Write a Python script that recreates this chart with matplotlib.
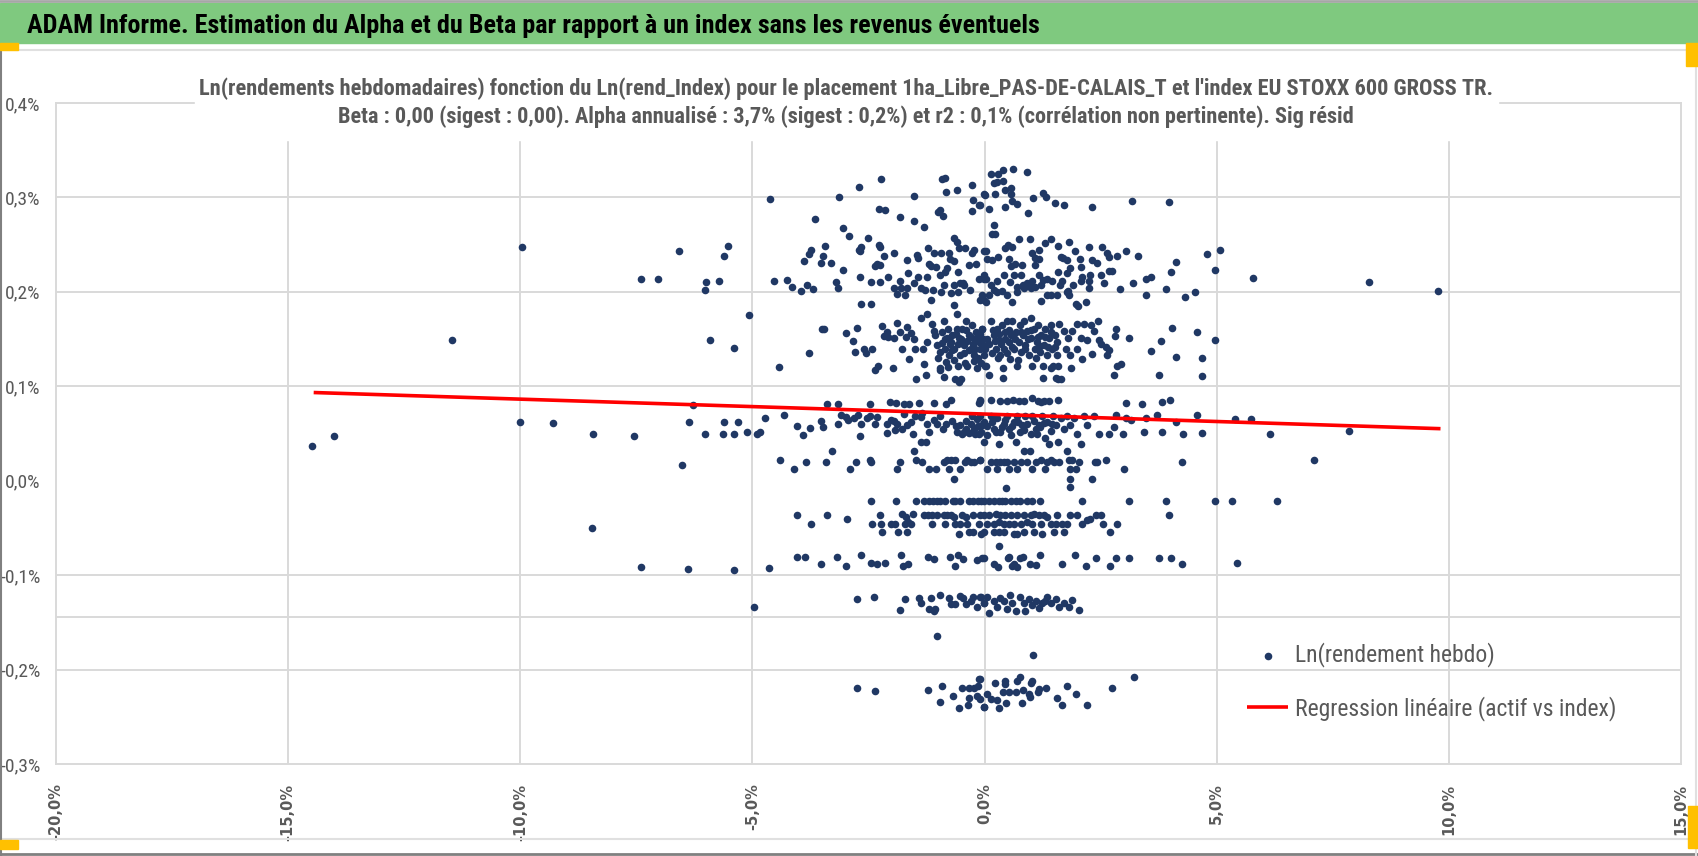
import matplotlib
matplotlib.use("Agg")
import matplotlib.pyplot as plt
import matplotlib.font_manager as fm
from matplotlib.patches import Rectangle
from matplotlib.lines import Line2D
from matplotlib.ticker import FuncFormatter

# valeurs : (rendement index %, rendement hebdo %)
pts_isoles = [(-9.96, 0.247), (-6.58, 0.243), (-5.52, 0.249), (-5.61, 0.238), (-7.39, 0.214), (-7.03, 0.214),
              (-5.99, 0.210), (-6.02, 0.202), (-5.71, 0.212), (-11.47, 0.149), (-5.91, 0.149), (-5.40, 0.141),
              (-14.49, 0.037), (-14.01, 0.047), (-10.00, 0.062), (-9.29, 0.061), (-8.43, 0.050), (-7.55, 0.047),
              (-6.36, 0.062), (-6.28, 0.080), (-6.02, 0.050), (-5.63, 0.050), (-5.61, 0.062), (-5.40, 0.050),
              (-5.31, 0.062), (-6.51, 0.017), (-8.46, -0.050), (-7.39, -0.091), (-6.39, -0.093), (-5.40, -0.095),
              (4.79, 0.240), (5.06, 0.244), (4.96, 0.223), (5.78, 0.215), (8.28, 0.210), (9.77, 0.201),
              (4.96, 0.149), (4.69, 0.130), (4.68, 0.111), (5.39, 0.065), (5.74, 0.065), (4.69, 0.051),
              (6.14, 0.050), (7.84, 0.053), (7.10, 0.022), (4.96, -0.022), (5.32, -0.022), (6.29, -0.022),
              (5.43, -0.087)]

pts_haut = [(-4.62, 0.298), (-3.13, 0.300), (-2.71, 0.311), (-2.23, 0.319), (-1.53, 0.302), (-0.91, 0.320),
            (-0.85, 0.321), (-0.84, 0.306), (-0.60, 0.308), (-0.28, 0.313), (-0.25, 0.297), (-0.28, 0.286),
            (-0.11, 0.292), (-0.01, 0.304), (-3.65, 0.277), (-2.28, 0.288), (-2.14, 0.287), (-1.83, 0.279),
            (-1.53, 0.275), (-1.30, 0.269), (-0.96, 0.287), (-1.00, 0.285), (-0.90, 0.280), (-3.04, 0.268),
            (-2.92, 0.259), (-2.52, 0.257), (0.14, 0.325), (0.29, 0.325), (0.39, 0.329), (0.62, 0.330),
            (0.91, 0.327), (0.20, 0.315), (0.26, 0.316), (0.40, 0.317), (0.45, 0.308), (0.57, 0.310),
            (0.57, 0.304), (0.00, 0.303), (0.22, 0.304), (-0.09, 0.292), (0.10, 0.288), (0.45, 0.290),
            (0.60, 0.296), (0.69, 0.293), (0.93, 0.283), (1.04, 0.299), (1.26, 0.305), (1.32, 0.300),
            (1.52, 0.294), (1.70, 0.292), (2.32, 0.290), (3.18, 0.296), (3.97, 0.295), (0.20, 0.271),
            (0.22, 0.261), (0.17, 0.261)]

pts_02 = [(-2.71, 0.244), (-2.67, 0.247), (-2.69, 0.243), (-2.27, 0.250), (-2.25, 0.247), (-2.16, 0.238),
          (-1.95, 0.241), (-1.67, 0.234), (-1.46, 0.239), (-1.44, 0.236), (-1.21, 0.246), (-1.08, 0.241),
          (-0.94, 0.241), (-0.77, 0.241), (-0.65, 0.257), (-0.60, 0.253), (-0.55, 0.246), (-0.42, 0.246),
          (-0.28, 0.241), (-0.23, 0.244), (-0.01, 0.243), (-3.74, 0.244), (-3.79, 0.240), (-3.90, 0.233),
          (-3.53, 0.231), (-3.44, 0.249), (-3.48, 0.238), (-3.30, 0.231), (-3.06, 0.223), (-2.36, 0.227),
          (-2.31, 0.229), (-2.25, 0.228), (-2.09, 0.216), (-2.69, 0.216), (-2.45, 0.210), (-2.26, 0.210),
          (-1.82, 0.212), (-1.64, 0.220), (-1.44, 0.216), (-1.25, 0.216), (-1.20, 0.230), (-1.16, 0.227),
          (-1.04, 0.226), (-0.96, 0.218), (-0.86, 0.221), (-0.80, 0.225), (-0.74, 0.235), (-0.66, 0.233),
          (-0.57, 0.221), (-0.52, 0.209), (-0.45, 0.207), (-0.33, 0.228), (-0.19, 0.230), (-0.13, 0.214),
          (-0.01, 0.214), (-4.53, 0.211), (-4.26, 0.213), (-4.15, 0.205), (-3.96, 0.201), (-3.82, 0.207),
          (-3.70, 0.203), (-3.20, 0.210), (-3.15, 0.204), (-1.95, 0.204), (-1.88, 0.198), (-1.81, 0.204),
          (-1.72, 0.197), (-1.67, 0.204), (-1.52, 0.209), (-1.37, 0.204), (-1.29, 0.202), (-1.16, 0.191),
          (-1.11, 0.202), (-0.93, 0.200), (-0.87, 0.207), (-0.73, 0.199), (-0.65, 0.207), (-0.57, 0.200),
          (-0.47, 0.209), (-0.32, 0.202), (-0.05, 0.197), (-0.01, 0.191),
          (0.03, 0.243), (0.06, 0.235), (0.17, 0.234), (0.29, 0.237), (0.43, 0.246), (0.50, 0.250),
          (0.60, 0.247), (0.52, 0.235), (0.56, 0.227), (0.66, 0.229), (0.75, 0.256), (0.81, 0.228),
          (0.98, 0.256), (1.03, 0.241), (1.08, 0.236), (1.08, 0.228), (1.18, 0.235), (1.17, 0.244),
          (1.31, 0.252), (1.42, 0.256), (1.58, 0.249), (1.65, 0.237), (1.69, 0.236), (1.78, 0.234),
          (1.82, 0.253), (1.85, 0.225), (1.95, 0.243), (2.05, 0.235), (2.07, 0.226), (2.24, 0.247),
          (2.32, 0.234), (2.43, 0.231), (2.53, 0.247), (2.64, 0.241), (2.68, 0.237), (2.86, 0.238),
          (3.05, 0.243), (3.31, 0.238), (4.12, 0.232), (4.02, 0.221), (-0.01, 0.218), (0.04, 0.214),
          (0.13, 0.207), (0.27, 0.212), (0.42, 0.218), (0.55, 0.210), (0.63, 0.218), (0.69, 0.205),
          (0.79, 0.218), (0.83, 0.207), (0.92, 0.209), (1.03, 0.211), (1.08, 0.205), (1.17, 0.218),
          (1.21, 0.207), (1.26, 0.213), (1.35, 0.214), (1.46, 0.211), (1.58, 0.221), (1.62, 0.207),
          (1.67, 0.212), (1.77, 0.220), (1.80, 0.201), (1.91, 0.207), (2.07, 0.212), (2.10, 0.216),
          (2.25, 0.212), (2.28, 0.218), (2.25, 0.204), (2.50, 0.218), (2.57, 0.209), (2.68, 0.222),
          (2.75, 0.222), (2.92, 0.203), (3.19, 0.209), (3.47, 0.214), (3.58, 0.216), (3.47, 0.197),
          (3.90, 0.203), (4.32, 0.195), (4.53, 0.200), (-0.09, 0.191), (0.02, 0.189), (0.09, 0.197),
          (0.20, 0.202), (0.27, 0.200), (0.37, 0.201), (0.49, 0.197), (0.60, 0.189), (0.70, 0.200),
          (0.85, 0.204), (0.99, 0.204), (1.21, 0.190), (1.35, 0.197), (1.42, 0.197), (1.57, 0.197),
          (1.78, 0.200), (1.82, 0.197), (1.96, 0.187), (2.02, 0.185), (2.18, 0.189)]

pts_015 = [(-5.07, 0.175), (-3.50, 0.161), (-3.46, 0.161), (-3.79, 0.135), (-4.43, 0.120), (-2.99, 0.156),
           (-2.75, 0.162), (-2.83, 0.148), (-2.80, 0.136), (-2.59, 0.140), (-2.56, 0.135), (-2.42, 0.140),
           (-2.36, 0.117), (-2.29, 0.122), (-2.20, 0.164), (-2.17, 0.153), (-2.10, 0.158), (-2.08, 0.152),
           (-1.95, 0.151), (-1.88, 0.167), (-1.82, 0.158), (-1.78, 0.139), (-1.70, 0.152), (-1.67, 0.163),
           (-1.62, 0.129), (-1.58, 0.156), (-1.53, 0.150), (-1.49, 0.140), (-1.38, 0.172), (-1.33, 0.139),
           (-1.31, 0.124), (-1.25, 0.177), (-1.24, 0.147), (-1.13, 0.166), (-1.09, 0.159), (-1.06, 0.154),
           (-1.02, 0.144), (-0.97, 0.136), (-0.95, 0.119), (-0.91, 0.158), (-0.88, 0.169), (-0.86, 0.140),
           (-0.84, 0.126), (-0.80, 0.151), (-0.79, 0.161), (-0.77, 0.133), (-0.73, 0.147), (-0.70, 0.154),
           (-0.66, 0.140), (-0.65, 0.186), (-0.60, 0.161), (-0.59, 0.177), (-0.57, 0.122), (-0.55, 0.151),
           (-0.52, 0.133), (-0.50, 0.108), (-0.48, 0.161), (-0.45, 0.144), (-0.41, 0.169), (-0.37, 0.122),
           (-0.34, 0.154), (-0.30, 0.140), (-0.27, 0.165), (-0.23, 0.133), (-0.19, 0.158), (-0.16, 0.119),
           (-0.12, 0.147), (-0.09, 0.140), (-0.05, 0.161), (-0.01, 0.133), (0.01, 0.122), (-1.47, 0.108),
           (-1.27, 0.112), (-0.88, 0.110), (-0.63, 0.108), (-0.55, 0.105), (-0.95, 0.117), (-2.66, 0.187),
           (-2.45, 0.187), (-1.97, 0.119),
           (-0.85, 0.150), (-0.75, 0.145), (-0.70, 0.138), (-0.62, 0.155), (-0.58, 0.145), (-0.50, 0.150),
           (-0.45, 0.135), (-0.40, 0.160), (-0.38, 0.148), (-0.33, 0.138), (-0.29, 0.152), (-0.25, 0.145),
           (-0.20, 0.140), (-0.18, 0.150), (-0.14, 0.130), (-0.10, 0.155), (-0.06, 0.145), (-0.03, 0.150),
           (-0.92, 0.146), (-0.66, 0.128), (-0.42, 0.125), (-0.22, 0.127), (-0.08, 0.125), (-1.00, 0.130),
           (-0.78, 0.120),
           (-0.05, 0.161), (0.00, 0.140), (0.04, 0.121), (0.09, 0.112), (0.13, 0.169), (0.20, 0.154),
           (0.24, 0.140), (0.27, 0.161), (0.31, 0.149), (0.34, 0.133), (0.38, 0.165), (0.40, 0.119),
           (0.42, 0.140), (0.45, 0.158), (0.49, 0.169), (0.52, 0.147), (0.55, 0.129), (0.57, 0.154),
           (0.60, 0.169), (0.63, 0.140), (0.67, 0.158), (0.70, 0.122), (0.74, 0.147), (0.76, 0.165),
           (0.79, 0.136), (0.83, 0.154), (0.85, 0.169), (0.88, 0.144), (0.92, 0.159), (0.96, 0.133),
           (0.99, 0.172), (1.01, 0.151), (1.03, 0.121), (1.06, 0.161), (1.08, 0.140), (1.12, 0.147),
           (1.15, 0.165), (1.19, 0.136), (1.22, 0.154), (1.25, 0.122), (1.28, 0.144), (1.31, 0.161),
           (1.35, 0.133), (1.39, 0.151), (1.42, 0.165), (1.46, 0.140), (1.48, 0.122), (1.51, 0.154),
           (1.55, 0.133), (1.57, 0.147), (1.60, 0.166), (1.64, 0.108), (1.53, 0.109), (1.58, 0.108),
           (1.26, 0.109), (0.40, 0.109), (1.42, 0.119), (1.58, 0.121), (1.71, 0.159), (1.75, 0.140),
           (1.80, 0.151), (1.84, 0.133), (1.87, 0.119), (1.89, 0.159), (1.98, 0.166), (2.00, 0.140),
           (2.07, 0.151), (2.10, 0.129), (2.14, 0.166), (2.21, 0.149), (2.30, 0.165), (2.32, 0.134),
           (2.36, 0.159), (2.44, 0.169), (2.46, 0.149), (2.50, 0.145), (2.61, 0.142), (2.63, 0.133),
           (2.68, 0.138), (2.82, 0.161), (2.81, 0.153), (2.86, 0.121), (2.93, 0.124), (2.79, 0.112),
           (3.11, 0.151), (3.58, 0.137), (3.76, 0.112), (3.81, 0.148), (4.04, 0.162), (4.12, 0.131),
           (4.57, 0.158),
           (0.05, 0.150), (0.10, 0.145), (0.15, 0.135), (0.18, 0.160), (0.22, 0.148), (0.28, 0.130),
           (0.32, 0.155), (0.36, 0.145), (0.44, 0.150), (0.48, 0.135), (0.53, 0.160), (0.58, 0.142),
           (0.65, 0.150), (0.72, 0.128), (0.78, 0.158), (0.86, 0.140), (0.94, 0.150), (1.00, 0.160),
           (1.10, 0.130), (1.14, 0.152), (1.20, 0.143), (1.30, 0.152), (1.37, 0.142), (1.44, 0.157),
           (1.52, 0.142)]

pts_006 = [(-3.39, 0.081), (-3.15, 0.081), (-2.47, 0.081), (-2.03, 0.083), (-1.91, 0.082), (-1.74, 0.081),
           (-1.62, 0.081), (-1.41, 0.082), (-1.08, 0.082), (-0.83, 0.081), (-0.73, 0.086), (-0.09, 0.085),
           (-0.12, 0.082), (-4.72, 0.066), (-4.32, 0.070), (-4.03, 0.058), (-3.91, 0.048), (-3.77, 0.056),
           (-3.53, 0.063), (-3.49, 0.057), (-3.16, 0.060), (-3.10, 0.070), (-2.99, 0.068), (-2.95, 0.064),
           (-2.82, 0.066), (-2.73, 0.070), (-2.67, 0.060), (-2.53, 0.066), (-2.47, 0.069), (-2.35, 0.060),
           (-2.31, 0.067), (-2.10, 0.060), (-2.01, 0.064), (-1.95, 0.063), (-1.88, 0.060), (-1.77, 0.055),
           (-1.74, 0.071), (-1.67, 0.059), (-1.59, 0.062), (-1.54, 0.050), (-1.50, 0.069), (-1.38, 0.068),
           (-1.34, 0.072), (-1.24, 0.060), (-1.19, 0.052), (-1.10, 0.064), (-1.03, 0.060), (-0.96, 0.069),
           (-0.89, 0.055), (-0.83, 0.060), (-0.71, 0.063), (-0.59, 0.052), (-0.53, 0.059), (-0.48, 0.049),
           (-0.40, 0.055), (-0.34, 0.051), (-0.27, 0.069), (-0.23, 0.055), (-0.17, 0.065), (-0.11, 0.050),
           (-0.05, 0.059), (-0.01, 0.041), (-5.11, 0.052), (-4.90, 0.050), (-4.84, 0.052), (-2.69, 0.047),
           (-2.10, 0.051), (-1.94, 0.054), (-1.37, 0.041), (-1.27, 0.041),
           (-0.30, 0.060), (-0.20, 0.050), (-0.15, 0.058), (-0.08, 0.052), (-0.02, 0.062), (-0.40, 0.063),
           (-0.62, 0.058), (-0.45, 0.052),
           (-0.09, 0.084), (0.13, 0.086), (0.33, 0.084), (0.49, 0.084), (0.62, 0.086), (0.74, 0.084),
           (0.85, 0.084), (1.03, 0.088), (1.14, 0.084), (1.21, 0.083), (1.28, 0.084), (1.39, 0.084),
           (1.58, 0.086), (3.05, 0.082), (3.38, 0.081), (3.83, 0.083), (3.99, 0.086), (-0.09, 0.069),
           (-0.01, 0.060), (0.06, 0.048), (0.13, 0.069), (0.20, 0.055), (0.27, 0.066), (0.31, 0.039),
           (0.34, 0.052), (0.42, 0.060), (0.49, 0.069), (0.56, 0.048), (0.63, 0.062), (0.67, 0.041),
           (0.70, 0.069), (0.76, 0.052), (0.81, 0.059), (0.88, 0.069), (0.99, 0.050), (1.03, 0.069),
           (1.10, 0.055), (1.17, 0.059), (1.24, 0.069), (1.31, 0.045), (1.35, 0.062), (1.39, 0.039),
           (1.42, 0.053), (1.48, 0.069), (1.53, 0.059), (1.58, 0.041), (1.64, 0.066), (1.71, 0.055),
           (1.78, 0.069), (1.85, 0.059), (1.93, 0.066), (2.00, 0.050), (2.07, 0.039), (2.14, 0.069),
           (2.21, 0.059), (2.36, 0.069), (2.46, 0.050), (2.68, 0.050), (2.79, 0.057), (2.84, 0.070),
           (2.99, 0.050), (3.04, 0.066), (3.15, 0.064), (3.43, 0.052), (3.47, 0.066), (3.72, 0.070),
           (3.83, 0.052), (4.13, 0.062), (4.27, 0.050), (4.58, 0.070),
           (0.05, 0.058), (0.16, 0.062), (0.24, 0.052), (0.38, 0.057), (0.45, 0.064), (0.52, 0.055),
           (0.60, 0.058), (0.72, 0.062), (0.84, 0.054), (0.92, 0.060), (1.06, 0.063), (1.12, 0.050),
           (1.20, 0.057), (1.27, 0.061), (1.45, 0.060)]

pts_002 = [(-4.41, 0.022), (-4.11, 0.012), (-3.84, 0.020), (-3.42, 0.020), (-3.28, 0.031), (-2.90, 0.012),
           (-2.77, 0.020), (-2.46, 0.022), (-2.44, 0.020), (-1.88, 0.012), (-1.83, 0.020), (-1.53, 0.031),
           (-1.48, 0.022), (-1.34, 0.020), (-1.20, 0.012), (-1.05, 0.012), (-0.87, 0.020), (-0.82, 0.022),
           (-0.77, 0.012), (-0.72, 0.022), (-0.66, 0.002), (-0.63, 0.022), (-0.53, 0.012), (-0.43, 0.020),
           (-0.37, 0.022), (-0.30, 0.020), (-0.23, 0.020), (-0.09, 0.022),
           (-0.09, 0.022), (0.06, 0.012), (0.13, 0.020), (0.24, 0.020), (0.27, 0.012), (0.34, 0.020),
           (0.42, 0.020), (0.49, 0.020), (0.52, 0.012), (0.63, 0.020), (0.70, 0.012), (0.78, 0.020),
           (0.85, 0.031), (0.92, 0.020), (0.98, 0.031), (1.03, 0.012), (1.10, 0.020), (1.21, 0.022),
           (1.31, 0.012), (1.35, 0.020), (1.42, 0.022), (1.49, 0.020), (1.60, 0.020), (1.77, 0.031),
           (1.82, 0.022), (1.85, 0.012), (1.89, 0.022), (1.96, 0.012), (2.03, 0.020), (1.84, 0.002),
           (1.84, -0.007), (2.32, 0.002), (0.47, -0.008), (2.38, 0.020), (2.43, 0.020), (2.62, 0.022),
           (3.00, 0.012), (4.25, 0.020)]

pts_neg = [(-2.45, -0.022), (-1.91, -0.022), (-1.48, -0.022), (-1.30, -0.022), (-1.19, -0.022), (-1.11, -0.022),
           (-1.03, -0.022), (-0.95, -0.022), (-0.85, -0.022), (-0.69, -0.022), (-0.63, -0.022), (-0.52, -0.022),
           (-0.34, -0.022), (-0.25, -0.022), (-0.15, -0.022), (-0.07, -0.022),
           (-0.01, -0.022), (0.09, -0.022), (0.20, -0.022), (0.31, -0.022), (0.38, -0.022), (0.45, -0.022),
           (0.56, -0.022), (0.67, -0.022), (0.76, -0.022), (0.92, -0.022), (1.03, -0.022), (1.19, -0.022),
           (2.10, -0.022), (3.10, -0.022), (3.90, -0.022),
           (-4.03, -0.036), (-3.39, -0.036), (-2.26, -0.036), (-1.77, -0.035), (-1.70, -0.038), (-1.54, -0.035),
           (-1.30, -0.036), (-1.21, -0.036), (-1.13, -0.036), (-1.03, -0.036), (-0.88, -0.036), (-0.80, -0.036),
           (-0.73, -0.036), (-0.66, -0.038), (-0.48, -0.036), (-0.41, -0.038), (-0.25, -0.036), (-0.09, -0.036),
           (-0.01, -0.036), (0.09, -0.036), (0.24, -0.035), (0.34, -0.036), (0.45, -0.036), (0.56, -0.036),
           (0.70, -0.036), (0.85, -0.036), (0.99, -0.036), (1.06, -0.035), (1.17, -0.036), (1.28, -0.036),
           (1.35, -0.038), (1.57, -0.036), (1.85, -0.036), (2.00, -0.036), (2.39, -0.036), (2.50, -0.036),
           (3.97, -0.036),
           (-3.73, -0.046), (-2.97, -0.041), (-2.43, -0.046), (-2.23, -0.046), (-2.01, -0.046), (-1.94, -0.046),
           (-1.72, -0.046), (-1.65, -0.044), (-1.58, -0.046), (-1.13, -0.046), (-0.86, -0.046), (-0.63, -0.046),
           (-0.52, -0.046), (-0.37, -0.046), (-0.12, -0.046),
           (0.06, -0.046), (0.20, -0.046), (0.31, -0.044), (0.42, -0.046), (0.52, -0.046), (0.63, -0.046),
           (0.78, -0.046), (0.92, -0.044), (1.03, -0.046), (1.21, -0.046), (1.42, -0.046), (1.53, -0.046),
           (1.67, -0.046), (1.78, -0.046), (2.10, -0.046), (2.21, -0.042), (2.28, -0.041), (2.56, -0.046),
           (2.86, -0.046),
           (-2.21, -0.054), (-1.87, -0.054), (-1.67, -0.054), (-0.56, -0.056), (-0.34, -0.054), (-0.25, -0.054),
           (-0.07, -0.056), (-0.01, -0.054), (0.20, -0.054), (0.31, -0.054), (0.42, -0.054), (0.63, -0.056),
           (0.70, -0.056), (0.85, -0.054), (1.06, -0.054), (1.24, -0.056), (1.49, -0.054), (1.70, -0.054),
           (2.70, -0.054), (0.31, -0.069),
           (-4.65, -0.092), (-4.03, -0.081), (-3.86, -0.081), (-3.53, -0.088), (-3.18, -0.081), (-2.99, -0.090),
           (-2.66, -0.079), (-2.45, -0.087), (-2.31, -0.088), (-2.14, -0.087), (-1.79, -0.079), (-1.76, -0.090),
           (-1.65, -0.088), (-1.22, -0.081), (-1.08, -0.083), (-0.75, -0.081), (-0.63, -0.090), (-0.57, -0.079),
           (-0.47, -0.083), (-0.16, -0.084), (-0.05, -0.082),
           (-0.01, -0.082), (0.20, -0.088), (0.29, -0.091), (0.50, -0.082), (0.52, -0.081), (0.60, -0.090),
           (0.63, -0.088), (0.70, -0.091), (0.76, -0.082), (0.83, -0.081), (0.98, -0.088), (1.10, -0.089),
           (1.19, -0.079), (1.67, -0.088), (1.94, -0.079), (2.18, -0.090), (2.39, -0.082), (2.70, -0.090),
           (2.84, -0.082), (3.12, -0.082), (3.76, -0.082), (4.02, -0.082), (4.25, -0.088)]

pts_013 = [(-4.97, -0.134), (-2.74, -0.125), (-2.38, -0.123), (-1.83, -0.137), (-1.72, -0.125), (-1.42, -0.124),
           (-1.38, -0.129), (-1.20, -0.136), (-1.16, -0.124), (-1.09, -0.138), (-1.06, -0.136), (-0.96, -0.121),
           (-0.77, -0.124), (-0.73, -0.131), (-0.63, -0.131), (-0.52, -0.122), (-0.46, -0.124), (-0.41, -0.131),
           (-0.30, -0.127), (-0.25, -0.123), (-0.16, -0.134), (-0.07, -0.123), (-0.01, -0.130),
           (-0.09, -0.123), (-0.01, -0.130), (0.06, -0.123), (0.10, -0.140), (0.20, -0.127), (0.27, -0.134),
           (0.34, -0.124), (0.42, -0.127), (0.49, -0.136), (0.55, -0.121), (0.60, -0.130), (0.67, -0.138),
           (0.76, -0.123), (0.85, -0.130), (0.88, -0.138), (0.96, -0.125), (1.03, -0.132), (1.10, -0.127),
           (1.17, -0.135), (1.24, -0.130), (1.31, -0.127), (1.35, -0.123), (1.42, -0.130), (1.53, -0.125),
           (1.60, -0.134), (1.71, -0.129), (1.82, -0.134), (1.89, -0.126), (2.03, -0.137),
           (-1.03, -0.164), (1.04, -0.185)]

pts_022 = [(-2.74, -0.220), (-2.36, -0.223), (-1.22, -0.222), (-0.96, -0.234), (-0.91, -0.217), (-0.68, -0.228),
           (-0.56, -0.241), (-0.49, -0.220), (-0.35, -0.238), (-0.34, -0.230), (-0.34, -0.220), (-0.23, -0.219),
           (-0.16, -0.228), (-0.14, -0.217), (-0.11, -0.210), (-0.09, -0.231), (-0.01, -0.240),
           (-0.09, -0.210), (-0.01, -0.240), (0.06, -0.226), (0.13, -0.231), (0.22, -0.214), (0.26, -0.232),
           (0.31, -0.241), (0.40, -0.224), (0.43, -0.215), (0.45, -0.212), (0.47, -0.235), (0.52, -0.224),
           (0.67, -0.224), (0.69, -0.212), (0.76, -0.208), (0.81, -0.235), (0.83, -0.222), (0.96, -0.226),
           (0.99, -0.214), (0.98, -0.229), (1.03, -0.212), (1.14, -0.224), (1.17, -0.221), (1.33, -0.219),
           (1.57, -0.230), (1.66, -0.238), (1.78, -0.217), (1.97, -0.226), (2.20, -0.237), (2.74, -0.219),
           (3.21, -0.208)]

reg_x = [-14.45, 9.82]
reg_y = [0.0934, 0.0551]

x_ticks = [-20, -15, -10, -5, 0, 5, 10, 15]
y_ticks = [-0.3, -0.2, -0.1, 0.0, 0.1, 0.2, 0.3, 0.4]
y_grid = [-0.2, -0.1, 0.1, 0.2, 0.3]
y_axe_h = -0.144

titre_bandeau = "ADAM Informe. Estimation du Alpha et du Beta par rapport à un index sans les revenus éventuels"
titre_1 = ("Ln(rendements hebdomadaires) fonction du Ln(rend_Index) pour le placement "
           "1ha_Libre_PAS-DE-CALAIS_T et l'index EU STOXX 600 GROSS TR.")
titre_2 = ("Beta : 0,00 (sigest : 0,00). Alpha annualisé : 3,7% (sigest : 0,2%) et r2 : 0,1% "
           "(corrélation non pertinente). Sig résid")
lab_points = "Ln(rendement hebdo)"
lab_reg = "Regression linéaire (actif vs index)"

tous = pts_isoles + pts_haut + pts_02 + pts_015 + pts_006 + pts_002 + pts_neg + pts_013 + pts_022
xs = [p[0] for p in tous]
ys = [p[1] for p in tous]

avail = {f.name for f in fm.fontManager.ttflist}
narrow = next((f for f in ["Liberation Sans Narrow", "Roboto Condensed", "Open Sans Condensed",
                           "Liberation Sans"] if f in avail), "DejaVu Sans")

GRIS = "#595959"
GRILLE = "#D9D9D9"
BLEU = "#203864"
W, H = 1698, 856


def fx(px):
    return px / W


def fy(py):
    return 1 - py / H


fig = plt.figure(figsize=(W / 100, H / 100), dpi=100)
fig.patch.set_facecolor("white")

# bandeau vert + cadre
fig.add_artist(Rectangle((0, fy(43)), 1, 40 / H, transform=fig.transFigure, color="#7FC97F", zorder=1))
fig.add_artist(Line2D([0, 1], [fy(1), fy(1)], color="#A6A6A6", lw=2))
fig.add_artist(Line2D([0, 1], [fy(50), fy(50)], color="#E0E0E0", lw=1.5))
fig.add_artist(Line2D([0, 1], [fy(839), fy(839)], color="#E0E0E0", lw=1.5))
fig.add_artist(Line2D([0, 1], [fy(854), fy(854)], color="#808080", lw=2))
fig.add_artist(Line2D([fx(1), fx(1)], [fy(50), fy(856)], color="#808080", lw=1.5))
fig.add_artist(Line2D([fx(1696), fx(1696)], [fy(50), fy(856)], color="#E0E0E0", lw=1.5))
for (x0, y0, w, h) in [(0, 43, 18, 7), (1686, 43, 12, 23), (0, 840, 18, 9), (1688, 806, 10, 42)]:
    fig.add_artist(Rectangle((fx(x0), fy(y0 + h)), w / W, h / H, transform=fig.transFigure,
                             color="#FFC000", zorder=3))

ax = fig.add_axes([fx(56), fy(764), (1681 - 56) / W, (764 - 103) / H])
ax.set_xlim(-20, 15)
ax.set_ylim(-0.3, 0.4)
for s in ax.spines.values():
    s.set_color(GRILLE)
    s.set_linewidth(1.4)
for v in x_ticks[1:-1]:
    ax.axvline(v, color=GRILLE, lw=1.4, zorder=0)
for v in y_grid:
    ax.axhline(v, color=GRILLE, lw=1.4, zorder=0)
ax.axhline(y_axe_h, color=GRILLE, lw=1.4, zorder=0)

sc = ax.scatter(xs, ys, s=30, color=BLEU, linewidths=0, zorder=3)
ln, = ax.plot(reg_x, reg_y, color="#FF0000", lw=2.6, zorder=4, solid_capstyle="butt")

ax.set_xticks(x_ticks)
ax.set_yticks(y_ticks)
ax.xaxis.set_major_formatter(FuncFormatter(lambda v, p: f"{v:.1f}%".replace(".", ",")))
ax.yaxis.set_major_formatter(FuncFormatter(lambda v, p: f"{v:.1f}%".replace(".", ",").replace("-0,0", "0,0")))
ax.tick_params(axis="both", length=0, colors=GRIS)
ax.tick_params(axis="x", pad=14)
ax.tick_params(axis="y", pad=11)
for t in ax.get_xticklabels():
    t.set_rotation(90)
    t.set_fontfamily("DejaVu Sans")
    t.set_fontweight("bold")
    t.set_fontsize(10.5)
for t in ax.get_yticklabels():
    t.set_fontfamily(narrow)
    t.set_fontsize(14)

# cadre blanc du titre
fig.add_artist(Rectangle((fx(195), fy(140)), (1498 - 195) / W, (140 - 58) / H, transform=fig.transFigure,
                         color="white", zorder=2))
t_band = fig.text(fx(27), fy(33), titre_bandeau, fontsize=20, fontweight="bold", family=narrow,
                  color="black", ha="left", va="baseline", zorder=5)
t1 = fig.text(fx(846), fy(95), titre_1, fontsize=16, fontweight="bold", family=narrow,
              color=GRIS, ha="center", va="baseline", zorder=5)
t2 = fig.text(fx(846), fy(123), titre_2, fontsize=16, fontweight="bold", family=narrow,
              color=GRIS, ha="center", va="baseline", zorder=5)

leg = fig.legend([sc, ln], [lab_points, lab_reg], loc="upper left", bbox_to_anchor=(fx(1238), fy(633)),
                 frameon=False, prop={"family": narrow, "size": 17}, labelcolor=GRIS,
                 labelspacing=1.2, handlelength=1.7, handletextpad=0.3, borderaxespad=0)

fig.canvas.draw()
r = fig.canvas.get_renderer()
for t, cible in [(t_band, 1010), (t1, 1295), (t2, 1018)]:
    w = t.get_window_extent(r).width
    t.set_fontsize(t.get_fontsize() * cible / w)

fig.savefig("out.png", dpi=100)
